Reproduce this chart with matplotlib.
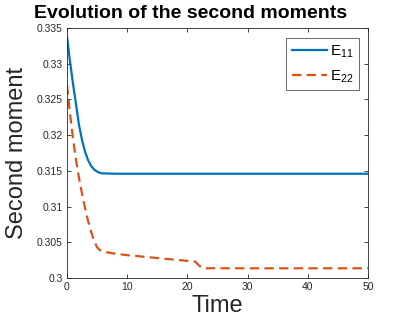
import matplotlib
matplotlib.use("Agg")
import matplotlib.pyplot as plt

plt.rcParams['font.family'] = ['Liberation Sans', 'DejaVu Sans']
plt.rcParams['mathtext.fontset'] = 'custom'
plt.rcParams['mathtext.rm'] = 'Liberation Sans'
plt.rcParams['mathtext.it'] = 'Liberation Sans'

t_e11 = [0, 0.5, 1, 1.5, 2, 2.5, 3, 3.5, 4, 4.5, 5, 5.5, 6, 8, 10, 20, 30, 40, 50]
e11 = [0.3338, 0.3303, 0.3272, 0.3243, 0.3214, 0.3193, 0.3177, 0.3165, 0.3157,
       0.3152, 0.3149, 0.3147, 0.31465, 0.3146, 0.3146, 0.3146, 0.3146, 0.3146, 0.3146]

t_e22 = [0, 0.5, 1, 1.5, 2, 2.5, 3, 3.5, 4, 4.5, 5, 5.5, 6, 8, 10, 15, 20, 21.3, 22, 22.6, 30, 40, 50]
e22 = [0.3270, 0.3230, 0.3195, 0.3165, 0.3140, 0.3118, 0.3098, 0.3080, 0.3065,
       0.3052, 0.3043, 0.3039, 0.3037, 0.3034, 0.3032, 0.3028, 0.3024, 0.3023,
       0.3017, 0.30137, 0.30136, 0.30136, 0.30136]

xticks = [0, 10, 20, 30, 40, 50]
yticks = [0.3, 0.305, 0.31, 0.315, 0.32, 0.325, 0.33, 0.335]
ytick_labels = ['0.3', '0.305', '0.31', '0.315', '0.32', '0.325', '0.33', '0.335']

fig = plt.figure(figsize=(4.07, 3.26), dpi=100)
ax = fig.add_axes([0.1646, 0.1472, 0.7394, 0.7668])

ax.plot(t_e11, e11, color='#0072BD', lw=1.6, label='E$_{11}$')
ax.plot(t_e22, e22, color='#D95319', lw=1.6, ls=(0, (4.2, 2.4)), label='E$_{22}$')

ax.set_xlim(0, 50)
ax.set_ylim(0.3, 0.335)
ax.set_xticks(xticks)
ax.set_yticks(yticks)
ax.set_yticklabels(ytick_labels)
ax.tick_params(direction='in', top=True, right=True, labelsize=7.5, length=3,
               width=0.6, colors='#262626', pad=3)
for s in ax.spines.values():
    s.set_linewidth(0.6)
    s.set_color('#262626')

ax.set_xlabel('Time', fontsize=17, color='#262626', labelpad=2)
ax.set_ylabel('Second moment', fontsize=17, color='#262626', labelpad=6)
fig.text(0.467, 0.958, 'Evolution of the second moments', ha='center', va='center',
         fontsize=14, fontweight='bold')

leg = ax.legend(loc='upper right', bbox_to_anchor=(0.970, 0.960), fontsize=11,
                frameon=True, fancybox=False, edgecolor='#262626', handlelength=2.3,
                borderaxespad=0, borderpad=0.35, handletextpad=0.2, labelspacing=0.55)
leg.get_frame().set_linewidth(0.6)

fig.savefig('out.png', dpi=100)
